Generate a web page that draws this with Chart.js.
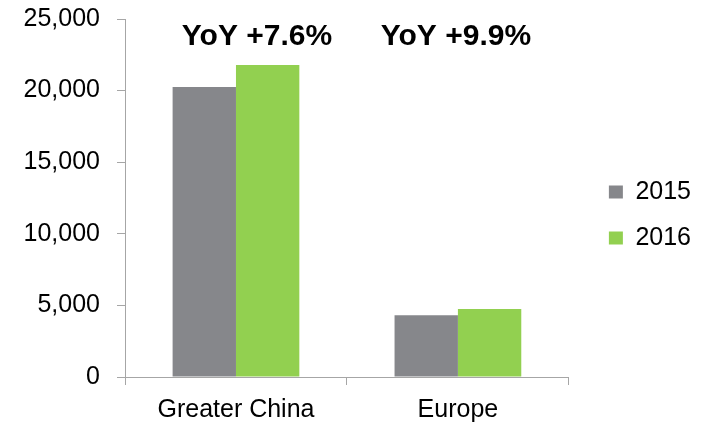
<!DOCTYPE html>
<html>
<head>
<meta charset="utf-8">
<script src="https://cdn.jsdelivr.net/npm/chart.js@4.4.1/dist/chart.umd.min.js"></script>
<style>
  html, body { margin: 0; padding: 0; background: #ffffff; }
  #wrap { width: 701px; height: 425px; position: relative; }
</style>
</head>
<body>
<div id="wrap"><canvas id="c" width="701" height="425"></canvas></div>
<script>
const categories = ['Greater China', 'Europe'];
const seriesNames = ['2015', '2016'];
const values2015 = [20250, 4320];
const values2016 = [21790, 4750];
const yoyLabels = ['YoY +7.6%', 'YoY +9.9%'];
const yTicks = [0, 5000, 10000, 15000, 20000, 25000];

const FONT = "'Liberation Sans', Arial, sans-serif";
const axisColor = '#A6A6A6';

const yoyPlugin = {
  id: 'yoy',
  afterDatasetsDraw(chart) {
    const ctx = chart.ctx;
    const xs = chart.scales.x;
    const top = chart.chartArea.top;
    const shifts = [21, -2];
    ctx.save();
    ctx.font = "bold 30px " + FONT;
    ctx.fillStyle = '#000000';
    ctx.textAlign = 'center';
    ctx.textBaseline = 'alphabetic';
    yoyLabels.forEach((t, i) => {
      ctx.fillText(t, xs.getPixelForValue(i) + shifts[i], top + 26);
    });
    ctx.restore();
  }
};

new Chart(document.getElementById('c'), {
  type: 'bar',
  data: {
    labels: categories,
    datasets: [
      { label: seriesNames[0], data: values2015, backgroundColor: '#86878B', borderWidth: 0 },
      { label: seriesNames[1], data: values2016, backgroundColor: '#92D050', borderWidth: 0 }
    ]
  },
  options: {
    responsive: false,
    animation: false,
    devicePixelRatio: 1,
    layout: { padding: { top: 5, left: 0, right: 0, bottom: 0 } },
    datasets: { bar: { barPercentage: 1.0, categoryPercentage: 0.571 } },
    plugins: {
      legend: {
        position: 'right',
        align: 'center',
        labels: {
          boxWidth: 14,
          boxHeight: 13,
          padding: 21,
          color: '#000000',
          font: { family: FONT, size: 25 }
        }
      },
      tooltip: { enabled: false }
    },
    scales: {
      x: {
        grid: { drawOnChartArea: false, drawTicks: true, tickLength: 8, color: axisColor, offset: true },
        border: { color: axisColor, width: 1 },
        ticks: { color: '#000000', font: { family: FONT, size: 25 }, padding: 10, maxRotation: 0 },
        afterFit(s) { s.height = 48; }
      },
      y: {
        min: 0,
        max: 25000,
        afterBuildTicks(s) { s.ticks = yTicks.map(v => ({ value: v })); },
        grid: { drawOnChartArea: false, drawTicks: true, tickLength: 8, color: axisColor },
        border: { color: axisColor, width: 1 },
        ticks: {
          color: '#000000',
          font: { family: FONT, size: 25 },
          padding: 17,
          callback: v => Number(v).toLocaleString('en-US')
        },
        afterFit(s) { s.width = 125; s.paddingTop = 19; s.paddingBottom = 0; }
      },
      spacer: {
        type: 'linear',
        position: 'right',
        display: true,
        grid: { display: false },
        border: { display: false },
        ticks: { display: false },
        afterFit(s) { s.width = 19; }
      }
    }
  },
  plugins: [yoyPlugin]
});
</script>
</body>
</html>
